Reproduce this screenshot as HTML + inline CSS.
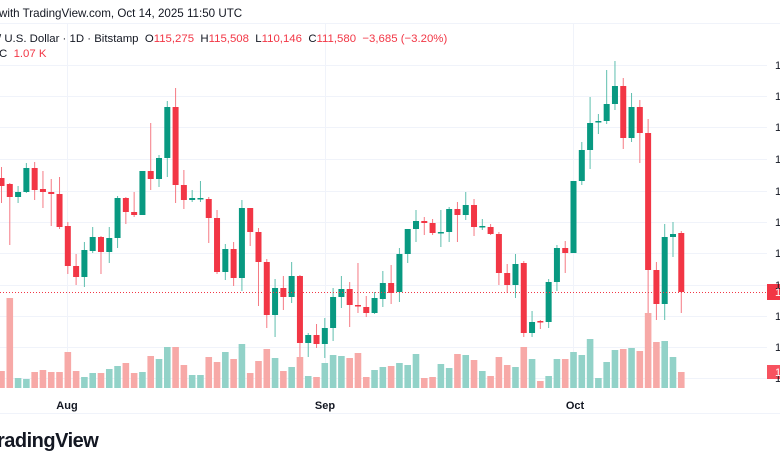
<!DOCTYPE html>
<html><head><meta charset="utf-8"><style>
html,body{margin:0;padding:0;background:#fff;width:780px;height:470px;overflow:hidden;font-family:"Liberation Sans",Arial,sans-serif;color:#131722}
.t{position:absolute;white-space:nowrap}
.r{color:#f23645}
</style></head><body>
<svg id="s" width="780" height="470" style="position:absolute;left:0;top:0">
<g stroke="#f0f3fa" stroke-width="1" id="grid"></g>
<line x1="0" y1="23.5" x2="780" y2="23.5" stroke="#f0f3fa"/>
<line x1="0" y1="413.5" x2="780" y2="413.5" stroke="#f0f3fa"/>
<line x1="67.5" y1="24" x2="67.5" y2="388" stroke="#f0f3fa"/>
<line x1="325.5" y1="24" x2="325.5" y2="388" stroke="#f0f3fa"/>
<line x1="573.5" y1="24" x2="573.5" y2="388" stroke="#f0f3fa"/>
<g id="vol"></g>
<g id="c"></g>
<line x1="0" y1="292.5" x2="767" y2="292.5" stroke="#f23645" stroke-dasharray="1,2"/>
<rect x="767" y="284" width="13" height="16" fill="#f23645"/>
<rect x="767" y="365" width="13" height="14" fill="#f7525f"/>
<g id="ax" font-family="Liberation Sans, sans-serif" font-size="11" fill="#131722"></g>
<text x="775" y="296" font-size="11" fill="#fff">1</text>
<text x="775" y="376" font-size="11" fill="#fff">1</text>
<g font-size="11" fill="#131722" font-family="Liberation Sans, sans-serif" text-anchor="middle" font-weight="bold">
<text x="67" y="409">Aug</text><text x="325" y="409">Sep</text><text x="575" y="409">Oct</text></g>
</svg>
<div class="t" style="left:-1px;top:7px;font-size:11.6px">with TradingView.com, Oct 14, 2025 11:50 UTC</div>
<div class="t" style="left:-2px;top:33px;font-size:11.4px">/ U.S. Dollar · 1D · Bitstamp &nbsp;O<span class="r">115,275</span> &nbsp;H<span class="r">115,508</span> &nbsp;L<span class="r">110,146</span> &nbsp;C<span class="r">111,580</span> &nbsp;<span class="r">−3,685 (−3.20%)</span></div>
<div class="t" style="left:-1px;top:48px;font-size:11.4px">C &nbsp;<span class="r">1.07 K</span></div>
<div class="t" style="left:-3px;top:430px;font-size:20px;font-weight:bold;letter-spacing:-0.5px">radingView</div>
<script>
var D=[
[178,186,167,203,0,371],[184,197,183,245,0,298],[192,197,186,203,1,378],[168,192,163,193,1,379],[168,190,162,200,0,372],
[189,192,171,208,0,370],[192,194,179,226,0,372],[194,227,177,229,0,372],[226,266,222,274,0,352],[266,277,254,285,0,371],
[250,277,242,287,1,377],[237,251,227,253,1,373],[237,252,236,274,0,373],[238,252,227,263,1,369],[198,238,196,248,1,366],
[198,212,197,224,0,363],[212,215,192,217,0,373],[171,215,171,215,1,372],[171,179,123,190,0,356],[158,179,155,187,1,359],
[107,158,101,177,1,347],[107,185,88,203,0,347],[185,200,170,209,0,365],[198,200,190,202,1,375],[198,199,181,202,1,375],
[199,218,197,243,0,357],[218,272,210,274,0,362],[249,272,244,280,1,352],[249,278,242,286,0,359],[208,278,200,291,1,344],
[208,232,208,246,0,373],[232,262,228,306,0,361],[262,315,259,328,0,349],[288,315,279,337,1,358],[288,297,276,310,0,371],
[276,297,262,303,1,367],[276,343,275,357,0,357],[335,343,333,357,1,376],[335,344,324,348,0,377],[328,344,318,358,1,363],
[297,328,288,341,1,355],[289,297,276,308,1,356],[289,305,282,327,0,358],[305,306,263,313,0,353],[307,313,296,317,0,377],
[298,313,292,314,1,370],[283,299,271,307,1,367],[283,293,265,304,0,366],[254,292,248,302,1,363],[229,254,229,263,1,365],
[221,229,210,242,1,354],[221,223,217,235,0,378],[223,233,219,235,0,377],[232,233,210,247,1,364],[209,232,207,242,1,368],
[209,215,202,242,0,354],[205,215,192,220,1,355],[205,227,199,236,0,360],[226,227,219,230,1,371],[227,234,224,235,0,376],
[234,273,232,285,0,357],[273,285,264,293,0,365],[264,285,254,298,1,367],[263,333,261,337,0,347],[322,333,311,337,1,359],
[321,322,320,329,0,381],[282,322,279,328,1,376],[248,282,245,291,1,359],[248,253,241,273,0,359],[181,253,181,253,1,352],
[150,181,142,185,1,355],[123,150,97,169,1,339],[121,122,114,134,1,378],[104,121,70,124,1,362],[86,104,61,110,1,350],
[86,138,78,149,0,349],[107,138,93,142,1,348],[107,133,100,163,0,351],[133,270,119,313,0,313],[270,304,262,320,0,342],
[237,304,224,320,1,341],[234,237,222,257,1,357],[233,292,231,313,0,372]];
var ns="http://www.w3.org/2000/svg",c=document.getElementById("c"),v=document.getElementById("vol"),g=document.getElementById("grid"),ax=document.getElementById("ax");
function el(p,t,a){var e=document.createElementNS(ns,t);for(var k in a)e.setAttribute(k,a[k]);p.appendChild(e);return e;}
[65,96,127,159,191,222,253,285,316,347,378].forEach(function(y){el(g,"line",{x1:0,x2:767,y1:y+.5,y2:y+.5});var t=el(ax,"text",{x:775,y:y+4});t.textContent="1";});
D.forEach(function(d,i){var x=1.5+8.29*i,col=d[4]?"#089981":"#f23645",vc=d[4]?"#92d2c8":"#f7a9a7";
el(v,"rect",{x:x-3.3,y:d[5],width:6.6,height:388-d[5],fill:vc});
el(c,"rect",{x:x-0.5,y:d[2],width:1,height:d[3]-d[2],fill:d[4]?"#5fbfae":"#f57a84"});
el(c,"rect",{x:x-3,y:d[0],width:6,height:Math.max(1.5,d[1]-d[0]),fill:col});});
</script>
</body></html>
